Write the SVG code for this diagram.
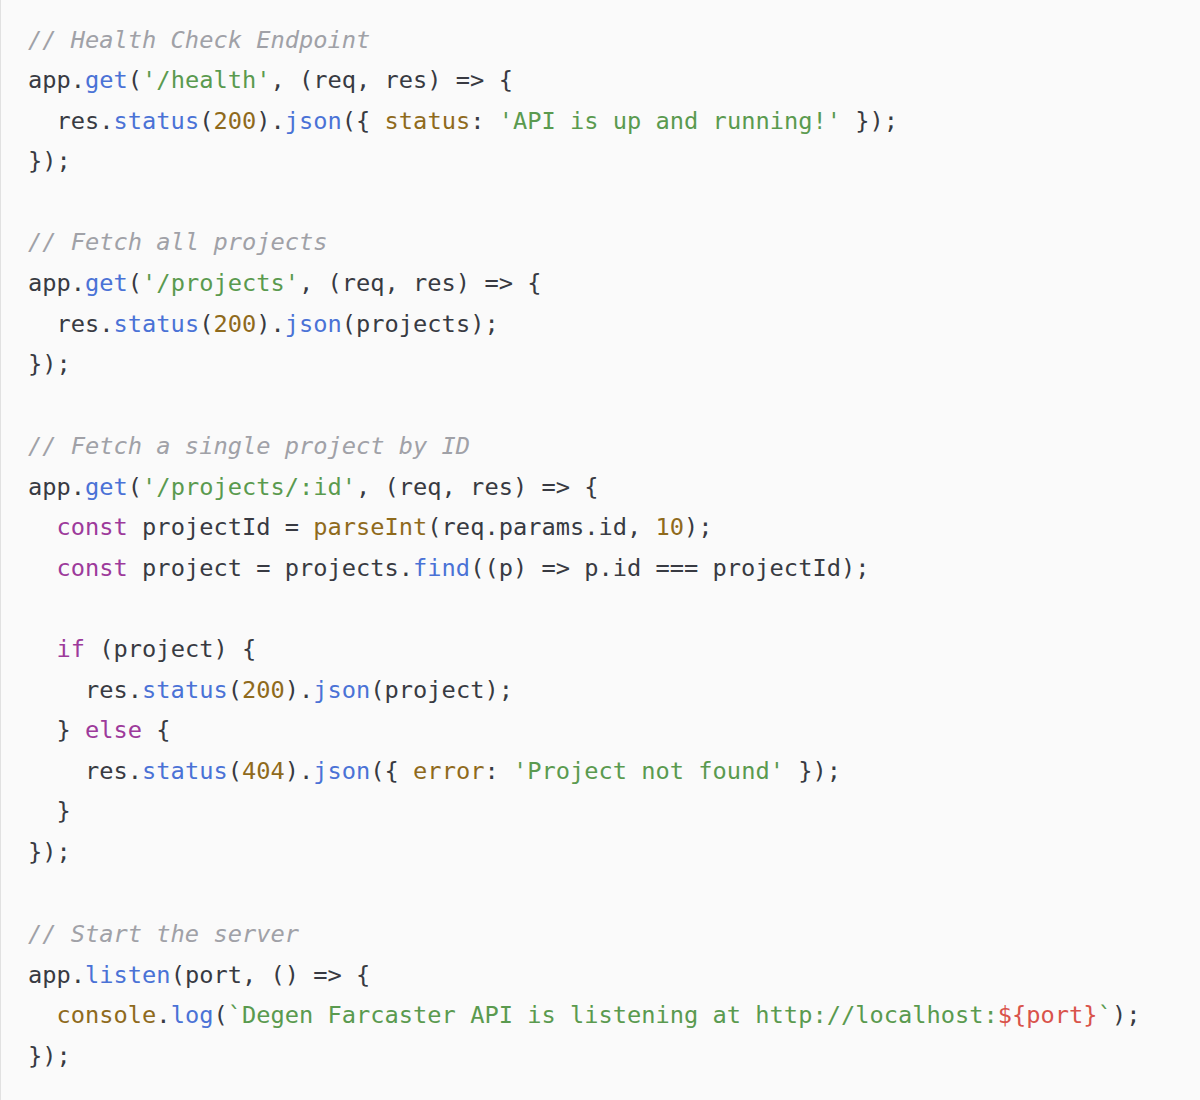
<svg xmlns="http://www.w3.org/2000/svg" width="1200" height="1100" viewBox="0 0 1200 1100">
<style>
text{font-family:"DejaVu Sans Mono","Liberation Mono",monospace;font-size:23.7px;fill:#383a42;white-space:pre}
.c{fill:#a0a1a7;font-style:italic}.f{fill:#4a72d6}.s{fill:#5a9a4f}.n{fill:#8f6a1c}.k{fill:#9d3a9b}.r{fill:#d9534a}
</style>
<rect x="0" y="-20" width="1220" height="1140" rx="8" fill="#fafafa" stroke="#e1e1e1" stroke-width="2"/>
<g id="code" xml:space="preserve">
<text x="28" y="48" class="c">// Health Check Endpoint</text>
<text x="28" y="88">app.<tspan class="f">get</tspan>(<tspan class="s">'/health'</tspan>, (req, res) =&gt; {</text>
<text x="28" y="129">  res.<tspan class="f">status</tspan>(<tspan class="n">200</tspan>).<tspan class="f">json</tspan>({ <tspan class="n">status</tspan>: <tspan class="s">'API is up and running!'</tspan> });</text>
<text x="28" y="169">});</text>
<text x="28" y="250" class="c">// Fetch all projects</text>
<text x="28" y="291">app.<tspan class="f">get</tspan>(<tspan class="s">'/projects'</tspan>, (req, res) =&gt; {</text>
<text x="28" y="332">  res.<tspan class="f">status</tspan>(<tspan class="n">200</tspan>).<tspan class="f">json</tspan>(projects);</text>
<text x="28" y="372">});</text>
<text x="28" y="454" class="c">// Fetch a single project by ID</text>
<text x="28" y="495">app.<tspan class="f">get</tspan>(<tspan class="s">'/projects/:id'</tspan>, (req, res) =&gt; {</text>
<text x="28" y="535">  <tspan class="k">const</tspan> projectId = <tspan class="n">parseInt</tspan>(req.params.id, <tspan class="n">10</tspan>);</text>
<text x="28" y="576">  <tspan class="k">const</tspan> project = projects.<tspan class="f">find</tspan>((p) =&gt; p.id === projectId);</text>
<text x="28" y="657">  <tspan class="k">if</tspan> (project) {</text>
<text x="28" y="698">    res.<tspan class="f">status</tspan>(<tspan class="n">200</tspan>).<tspan class="f">json</tspan>(project);</text>
<text x="28" y="738">  } <tspan class="k">else</tspan> {</text>
<text x="28" y="779">    res.<tspan class="f">status</tspan>(<tspan class="n">404</tspan>).<tspan class="f">json</tspan>({ <tspan class="n">error</tspan>: <tspan class="s">'Project not found'</tspan> });</text>
<text x="28" y="819">  }</text>
<text x="28" y="860">});</text>
<text x="28" y="942" class="c">// Start the server</text>
<text x="28" y="983">app.<tspan class="f">listen</tspan>(port, () =&gt; {</text>
<text x="28" y="1023">  <tspan class="n">console</tspan>.<tspan class="f">log</tspan>(<tspan class="s">`Degen Farcaster API is listening at http://localhost:</tspan><tspan class="r">${port}</tspan><tspan class="s">`</tspan>);</text>
<text x="28" y="1064">});</text>
</g>
</svg>
